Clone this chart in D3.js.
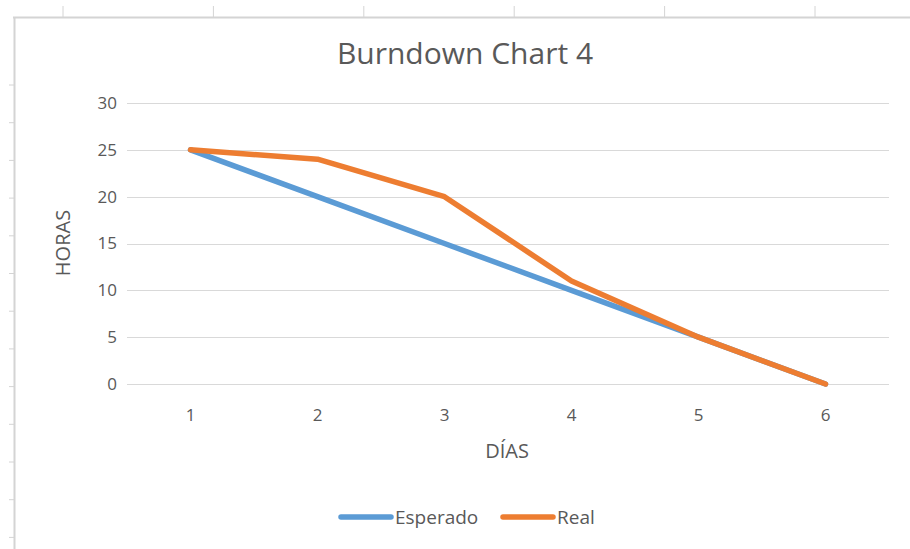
<!DOCTYPE html>
<html>
<head>
<meta charset="utf-8">
<script src="https://cdn.jsdelivr.net/npm/d3@7"></script>
<style>
  body { margin: 0; background: #fff; }
  text { font-family: "Open Sans", "Noto Sans", sans-serif; fill: #595959; }
</style>
</head>
<body>
<div id="chart"></div>
<script>
var dias = ["1", "2", "3", "4", "5", "6"];
var esperado = [25, 20, 15, 10, 5, 0];
var real = [25, 24, 20, 11, 5, 0];
var yTicks = [0, 5, 10, 15, 20, 25, 30];
var series = [
  { name: "Esperado", values: esperado, color: "#5B9BD5" },
  { name: "Real", values: real, color: "#ED7D31" }
];

var width = 910, height = 549;
var margin = { top: 103, right: 21, bottom: 165, left: 127 };
var innerW = width - margin.left - margin.right,
    innerH = height - margin.top - margin.bottom;

var svg = d3.select("#chart")
    .append("svg")
    .attr("width", width)
    .attr("height", height);

// spreadsheet cell marks behind the chart
var sheet = svg.append("g").attr("stroke", "#d4d4d4");
sheet.append("line").attr("x1", 13).attr("x2", width).attr("y1", 17.5).attr("y2", 17.5).attr("stroke-width", 2);
sheet.append("line").attr("x1", 14.5).attr("x2", 14.5).attr("y1", 17).attr("y2", height).attr("stroke-width", 2);
d3.range(63, width, 150.4).forEach(function (x) {
  sheet.append("line").attr("x1", x).attr("x2", x).attr("y1", 6).attr("y2", 17);
});
d3.range(85, height, 37.7).forEach(function (y) {
  sheet.append("line").attr("x1", 9).attr("x2", 14).attr("y1", y).attr("y2", y);
});

var g = svg.append("g")
    .attr("transform", "translate(" + margin.left + "," + margin.top + ")");

var x = d3.scaleBand().domain(dias).range([0, innerW]);
var y = d3.scaleLinear().domain([0, 30]).range([innerH, 0]);

// gridlines
g.append("g")
    .selectAll("line")
    .data(yTicks)
    .enter().append("line")
    .attr("x1", 0).attr("x2", innerW)
    .attr("y1", function (d) { return Math.round(y(d)) + 0.5; })
    .attr("y2", function (d) { return Math.round(y(d)) + 0.5; })
    .attr("stroke", "#d9d9d9");

var yAxis = g.append("g")
    .call(d3.axisLeft(y).tickValues(yTicks).tickSize(0).tickPadding(10));
yAxis.select(".domain").remove();
yAxis.selectAll("text").style("font-size", "17px").attr("fill", "#595959");

var xAxis = g.append("g")
    .attr("transform", "translate(0," + innerH + ")")
    .call(d3.axisBottom(x).tickSize(0).tickPadding(25));
xAxis.select(".domain").remove();
xAxis.selectAll("text").style("font-size", "17px").attr("fill", "#595959");

var line = d3.line()
    .x(function (d, i) { return x(dias[i]) + x.bandwidth() / 2; })
    .y(function (d) { return y(d); });

g.selectAll(".serie")
    .data(series)
    .enter().append("path")
    .attr("class", "serie")
    .attr("fill", "none")
    .attr("stroke", function (d) { return d.color; })
    .attr("stroke-width", 5.5)
    .attr("stroke-linejoin", "round")
    .attr("stroke-linecap", "round")
    .attr("d", function (d) { return line(d.values); });

// title and axis titles
svg.append("text")
    .attr("x", 465).attr("y", 64)
    .attr("text-anchor", "middle")
    .style("font-size", "30px")
    .text("Burndown Chart 4");

svg.append("text")
    .attr("x", 507).attr("y", 458)
    .attr("text-anchor", "middle")
    .style("font-size", "20px")
    .text("DÍAS");

svg.append("text")
    .attr("transform", "translate(70,243) rotate(-90)")
    .attr("text-anchor", "middle")
    .style("font-size", "20px")
    .text("HORAS");

// legend
var legend = svg.append("g").attr("transform", "translate(0,517)");
var lx = [341, 503];
series.forEach(function (s, i) {
  legend.append("line")
      .attr("x1", lx[i]).attr("x2", lx[i] + 50)
      .attr("y1", 0).attr("y2", 0)
      .attr("stroke", s.color)
      .attr("stroke-width", 5.5)
      .attr("stroke-linecap", "round");
  legend.append("text")
      .attr("x", lx[i] + 54).attr("y", 7)
      .style("font-size", "19px")
      .text(s.name);
});
</script>
</body>
</html>
